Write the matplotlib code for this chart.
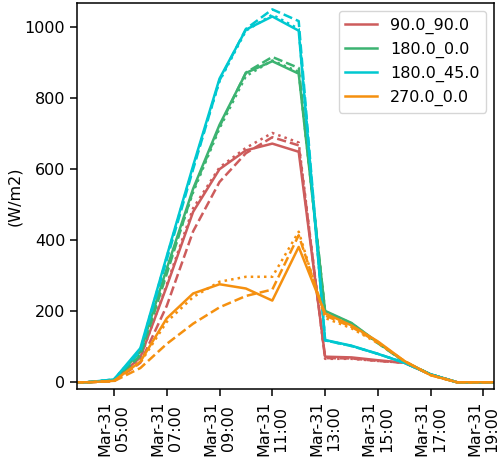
import numpy as np
import pandas as pd
import matplotlib
matplotlib.use('Agg')
import matplotlib.pyplot as plt
import matplotlib.dates as mdates

# 时间轴：03:00 - 20:00，每小时一个点
times = pd.date_range('2021-03-31 03:00', '2021-03-31 20:00', freq='h')

labels = ['90.0_90.0', '180.0_0.0', '180.0_45.0', '270.0_0.0']
colors = ['#cd5c5c', '#3cb371', '#00c8d0', '#f5900f']

# 各朝向的辐照度 (W/m2)：实线 / 虚线 / 点线
red_solid = [0, 0, 5, 70, 270, 480, 600, 653, 672, 649, 72, 70, 62, 55, 22, 0, 0, 0]
red_dash = [0, 0, 3, 55, 215, 425, 564, 645, 690, 667, 68, 67, 60, 55, 22, 0, 0, 0]
red_dot = [0, 0, 5, 68, 275, 490, 605, 660, 702, 675, 66, 66, 60, 55, 22, 0, 0, 0]

green_solid = [0, 0, 6, 86, 320, 545, 725, 871, 904, 869, 201, 167, 112, 58, 22, 0, 0, 0]
green_dash = [0, 0, 5, 75, 305, 540, 720, 872, 916, 885, 198, 165, 110, 58, 22, 0, 0, 0]
green_dot = [0, 0, 6, 80, 315, 535, 715, 862, 906, 874, 199, 166, 111, 58, 22, 0, 0, 0]

cyan_solid = [0, 0, 8, 96, 355, 610, 855, 993, 1030, 990, 119, 103, 80, 55, 22, 0, 0, 0]
cyan_dash = [0, 0, 7, 88, 345, 600, 850, 995, 1050, 1017, 118, 102, 80, 55, 22, 0, 0, 0]
cyan_dot = [0, 0, 8, 92, 352, 605, 848, 990, 1035, 995, 118, 102, 80, 55, 22, 0, 0, 0]

orange_solid = [0, 0, 4, 58, 180, 250, 276, 264, 230, 381, 194, 160, 115, 60, 20, 0, 0, 0]
orange_dash = [0, 0, 3, 40, 108, 165, 211, 243, 261, 414, 188, 156, 112, 60, 20, 0, 0, 0]
orange_dot = [0, 0, 4, 55, 170, 240, 283, 297, 297, 424, 181, 152, 110, 60, 20, 0, 0, 0]

series = [
    (red_solid, red_dash, red_dot),
    (green_solid, green_dash, green_dot),
    (cyan_solid, cyan_dash, cyan_dot),
    (orange_solid, orange_dash, orange_dot),
]

plt.rcParams['font.size'] = 11.5

fig = plt.figure(figsize=(5, 4.59), dpi=100)
ax = fig.add_axes([0.154, 0.1525, 0.834, 0.841])

for (s, d, o), c, lab in zip(series, colors, labels):
    ax.plot(times, s, '-', color=c, lw=1.8, label=lab)
    ax.plot(times, d, '--', color=c, lw=1.8)
    ax.plot(times, o, ':', color=c, lw=1.8)

ax.set_xlim(pd.Timestamp('2021-03-31 03:36'), pd.Timestamp('2021-03-31 19:24'))
ax.set_ylim(-19, 1068)
ax.xaxis.set_major_locator(mdates.HourLocator(byhour=range(5, 20, 2)))
ax.xaxis.set_major_formatter(mdates.DateFormatter('%b-%d\n%H:%M'))
plt.setp(ax.get_xticklabels(), rotation=90, ha='center')
ax.set_ylabel('(W/m2)', labelpad=2)
ax.legend(loc='upper right')
for sp in ax.spines.values():
    sp.set_linewidth(1.1)
ax.tick_params(width=1.1, length=5)

fig.savefig('out.png', dpi=100)
